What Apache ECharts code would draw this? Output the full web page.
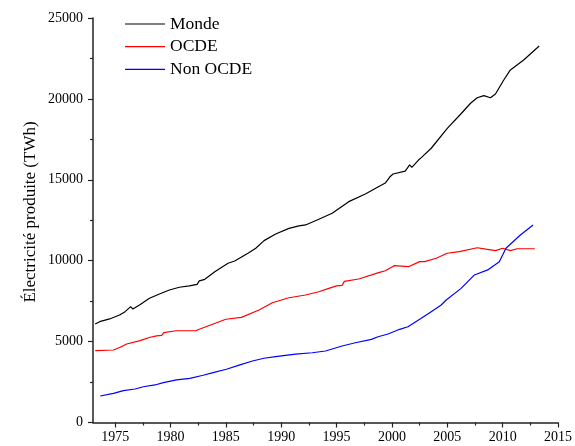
<!DOCTYPE html>
<html>
<head>
<meta charset="utf-8">
<script src="https://cdn.jsdelivr.net/npm/echarts@6/dist/echarts.min.js"></script>
<style>
    html, body { margin: 0; padding: 0; background: #fff; }
    #chart { width: 575px; height: 446px; }
</style>
</head>
<body>
<div id="chart"></div>
<script>
var seriesNames = ['Monde', 'OCDE', 'Non OCDE'];

var mondeYears = [1973.2, 1973.6, 1974.5, 1975.4, 1975.9, 1976.4, 1976.6, 1977.2, 1978.1, 1979.0, 1979.9, 1980.8, 1981.7, 1982.4, 1982.6, 1983.1, 1984.0, 1985.2, 1985.8, 1987.0, 1987.7, 1988.45, 1988.6, 1989.5, 1990.7, 1991.6, 1992.2, 1993.4, 1994.6, 1996.1, 1997.6, 1998.9, 1999.4, 1999.8, 2000.1, 2001.2, 2001.6, 2001.8, 2002.4, 2002.65, 2003.55, 2005.0, 2006.2, 2007.1, 2007.7, 2008.3, 2008.9, 2009.35, 2010.1, 2010.7, 2011.9, 2013.3];
var mondeValues = [6090, 6230, 6400, 6640, 6850, 7160, 7010, 7260, 7680, 7940, 8190, 8360, 8440, 8540, 8750, 8850, 9320, 9840, 9980, 10460, 10770, 11240, 11170, 11650, 12000, 12150, 12210, 12560, 12930, 13650, 14120, 14620, 14800, 15170, 15360, 15540, 15920, 15770, 16220, 16370, 16950, 18180, 19050, 19730, 20070, 20200, 20070, 20300, 21170, 21790, 22400, 23270];

var ocdeYears = [1973.2, 1974.85, 1975.45, 1976.05, 1977.25, 1978.15, 1978.75, 1978.9, 1979.2, 1979.4, 1980.5, 1982.3, 1982.6, 1983.8, 1985.0, 1986.4, 1988.0, 1989.2, 1990.7, 1992.2, 1993.4, 1994.3, 1995.0, 1995.5, 1995.7, 1997.0, 1998.8, 1999.4, 2000.2, 2001.5, 2002.5, 2002.95, 2004.0, 2005.0, 2006.1, 2007.7, 2008.5, 2009.35, 2010.0, 2010.7, 2011.3, 2012.9];
var ocdeValues = [4440, 4480, 4650, 4850, 5060, 5270, 5350, 5470, 5390, 5550, 5670, 5670, 5760, 6070, 6380, 6500, 6950, 7400, 7710, 7880, 8080, 8290, 8440, 8470, 8720, 8870, 9260, 9380, 9690, 9630, 9940, 9940, 10150, 10460, 10560, 10800, 10710, 10620, 10770, 10620, 10740, 10740];

var nonOcdeYears = [1973.65, 1974.85, 1975.75, 1976.8, 1977.55, 1978.6, 1979.35, 1980.55, 1981.75, 1982.95, 1983.85, 1985.05, 1986.2, 1987.4, 1988.45, 1989.5, 1991.3, 1992.8, 1994.0, 1995.5, 1996.7, 1998.15, 1998.75, 1999.65, 2000.7, 2001.45, 2002.65, 2003.55, 2004.45, 2004.9, 2006.25, 2007.45, 2008.65, 2009.7, 2010.0, 2010.3, 2011.6, 2012.75];
var nonOcdeValues = [1640, 1800, 1970, 2070, 2210, 2320, 2460, 2630, 2730, 2920, 3080, 3290, 3550, 3800, 3970, 4070, 4230, 4310, 4420, 4730, 4930, 5140, 5300, 5470, 5760, 5920, 6440, 6850, 7260, 7570, 8290, 9120, 9430, 9940, 10350, 10770, 11590, 12210];

var xTicks = [1975, 1980, 1985, 1990, 1995, 2000, 2005, 2010, 2015];
var xMinorTicks = [1977.5, 1982.5, 1987.5, 1992.5, 1997.5, 2002.5, 2007.5, 2012.5];

var font = '"Liberation Serif", "DejaVu Serif", serif';
var axisColor = '#222';

function zip(xs, ys) {
    return xs.map(function (x, i) { return [x, ys[i]]; });
}

function plain(v) {
    return String(v);
}

var myChart = echarts.init(document.getElementById('chart'));
myChart.setOption({
    animation: false,
    color: ['#000000', '#ff0000', '#0000ff'],
    grid: {
        left: 93,
        right: 14,
        top: 18,
        bottom: 23.5
    },
    legend: {
        data: seriesNames,
        orient: 'vertical',
        left: 125,
        top: 15,
        padding: 0,
        icon: 'rect',
        itemWidth: 40,
        itemHeight: 1.2,
        itemGap: 4.7,
        textStyle: { fontFamily: font, fontSize: 17.5, color: '#000', lineHeight: 18 }
    },
    graphic: [{
        type: 'text',
        x: 31,
        y: 212,
        rotation: Math.PI / 2,
        style: {
            text: 'Électricité produite (TWh)',
            font: '17px ' + font,
            fill: '#000',
            textAlign: 'center',
            textVerticalAlign: 'middle'
        }
    }],
    xAxis: [
        {
            type: 'value',
            min: 1973,
            max: 2015,
            splitLine: { show: false },
            axisLine: { lineStyle: { color: axisColor, width: 1.5 } },
            axisTick: { customValues: xTicks, length: 5, lineStyle: { color: axisColor, width: 1.2 } },
            axisLabel: { customValues: xTicks, formatter: plain, margin: 8, fontFamily: font, fontSize: 14, color: '#000' }
        },
        {
            // minor ticks only
            type: 'value',
            position: 'bottom',
            min: 1973,
            max: 2015,
            splitLine: { show: false },
            axisLine: { show: false },
            axisTick: { customValues: xMinorTicks, length: 3, lineStyle: { color: axisColor, width: 1.2 } },
            axisLabel: { show: false }
        }
    ],
    yAxis: {
        type: 'value',
        min: 0,
        max: 25000,
        interval: 5000,
        splitLine: { show: false },
        axisLine: { show: true, lineStyle: { color: axisColor, width: 1.5 } },
        axisTick: { show: true, length: 5, lineStyle: { color: axisColor, width: 1.2 } },
        minorTick: { show: true, splitNumber: 2, length: 3, lineStyle: { color: axisColor, width: 1.2 } },
        axisLabel: { formatter: plain, margin: 10, fontFamily: font, fontSize: 14, color: '#000' }
    },
    series: [
        {
            name: seriesNames[0],
            type: 'line',
            showSymbol: false,
            lineStyle: { width: 1.2 },
            data: zip(mondeYears, mondeValues)
        },
        {
            name: seriesNames[1],
            type: 'line',
            showSymbol: false,
            lineStyle: { width: 1.2 },
            data: zip(ocdeYears, ocdeValues)
        },
        {
            name: seriesNames[2],
            type: 'line',
            showSymbol: false,
            lineStyle: { width: 1.2 },
            data: zip(nonOcdeYears, nonOcdeValues)
        }
    ]
});
</script>
</body>
</html>
